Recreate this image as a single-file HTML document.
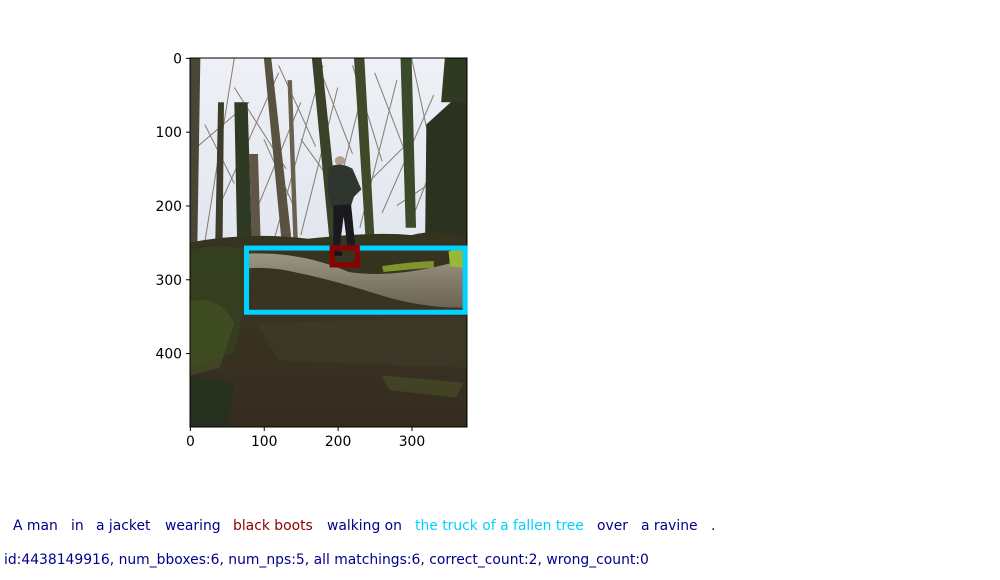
<!DOCTYPE html>
<html><head><meta charset="utf-8">
<style>
html,body{margin:0;padding:0;background:#fff;}
body{width:1000px;height:580px;position:relative;overflow:hidden;font-family:"DejaVu Sans","Liberation Sans",sans-serif;}
.w{position:absolute;font-size:13.9px;white-space:pre;line-height:16px;font-family:"DejaVu Sans","Liberation Sans",sans-serif;}
</style></head>
<body>
<svg id="chart" width="1000" height="500" style="position:absolute;left:0;top:0" xmlns="http://www.w3.org/2000/svg">
  <defs>
    <clipPath id="imgclip"><rect x="190" y="58" width="277" height="369"/></clipPath>
    <linearGradient id="sky" x1="0" y1="0" x2="0" y2="1">
      <stop offset="0" stop-color="#eef0f6"/><stop offset="0.5" stop-color="#e2e6ee"/><stop offset="1" stop-color="#c9cdc8"/>
    </linearGradient>
    <linearGradient id="ground" x1="0" y1="0" x2="0" y2="1">
      <stop offset="0" stop-color="#33341f"/><stop offset="0.4" stop-color="#3a3322"/><stop offset="1" stop-color="#352c20"/>
    </linearGradient>
    <linearGradient id="log" x1="0" y1="0" x2="0" y2="1">
      <stop offset="0" stop-color="#9c9583"/><stop offset="1" stop-color="#6b6455"/>
    </linearGradient>
  </defs>
  <g id="photo" clip-path="url(#imgclip)">
    <g transform="translate(190,58) scale(0.7387,0.738)">
      <rect x="0" y="0" width="375" height="500" fill="url(#sky)"/>
      <g stroke="#6e6455" stroke-width="1.4" fill="none" opacity="0.8">
        <path d="M20 250 L60 0 M40 200 L120 20 M80 230 L150 60 M110 260 L180 10 M150 240 L200 40 M190 220 L230 60 M230 230 L280 30 M260 210 L330 50 M300 220 L350 90 M10 120 L80 60 M130 150 L60 40 M170 120 L120 10 M220 130 L170 0 M260 140 L220 10 M300 150 L250 20 M330 140 L300 0 M60 170 L20 90 M140 200 L100 110 M200 180 L150 110 M240 170 L300 110 M280 200 L340 160"/>
      </g>
      <g fill="#4a4636">
        <path d="M0 0 L14 0 L10 250 L0 250 Z"/>
        <path d="M60 60 L78 60 L84 260 L64 260 Z" fill="#2f3a24"/>
        <path d="M38 60 L46 60 L44 260 L34 260 Z" fill="#3d3d2c"/>
        <path d="M100 0 L110 0 L140 270 L126 270 Z" fill="#5a5240"/>
        <path d="M165 0 L178 0 L205 260 L190 260 Z" fill="#3b4128"/>
        <path d="M132 30 L138 30 L146 250 L140 250 Z" fill="#6a6050"/>
        <path d="M222 0 L236 0 L250 250 L238 250 Z" fill="#3e4a2a"/>
        <path d="M285 0 L300 0 L306 230 L292 230 Z" fill="#3a4a2a"/>
        <path d="M320 90 L375 40 L375 270 L318 270 Z" fill="#2b3320"/>
        <path d="M345 0 L375 0 L375 60 L340 60 Z" fill="#2e3a22"/>
        <path d="M80 130 L92 130 L96 260 L84 260 Z" fill="#5e5646"/>
      </g>
      <path d="M0 250 Q80 235 160 245 Q250 235 300 240 Q340 230 375 245 L375 500 L0 500 Z" fill="url(#ground)"/>
      <path d="M0 260 Q40 250 90 262 L60 400 L0 420 Z" fill="#34421f" opacity="0.8"/>
      <path d="M0 330 Q40 320 60 360 L40 420 L0 430 Z" fill="#4a5a24" opacity="0.5"/>
      <path d="M0 430 L60 440 L50 500 L0 500 Z" fill="#24321e" opacity="0.8"/>
      <path d="M90 360 L375 350 L375 420 L120 410 Z" fill="#3f3a2a" opacity="0.6"/>
      <path d="M260 430 L370 440 L360 460 L270 450 Z" fill="#4a5228" opacity="0.6"/>
      <path d="M78 265 Q150 262 215 290 Q280 300 375 272 L375 338 Q320 340 260 322 Q190 300 150 292 Q110 282 80 285 Z" fill="url(#log)"/>
      <path d="M260 282 Q300 276 330 275 L330 284 Q300 286 262 290 Z" fill="#8aa030" opacity="0.9"/>
      <path d="M350 262 L375 255 L375 285 L352 282 Z" fill="#9ab838"/>
      <ellipse cx="203" cy="139" rx="7" ry="6" fill="#b0a090"/>
      <path d="M188 148 Q203 140 220 150 L232 178 L222 188 L218 200 L192 202 L186 180 Z" fill="#2f3630"/>
      <path d="M194 200 L218 198 L224 258 L214 262 L208 215 L202 262 L194 262 Z" fill="#1a1a1e"/>
      <rect x="194" y="262" width="12" height="6" fill="#141414"/>
    </g>
  </g>
  <rect x="190" y="58" width="277" height="369" fill="none" stroke="#000" stroke-width="1"/>
  <g id="axes" font-family="DejaVu Sans, Liberation Sans, sans-serif" font-size="13.9" fill="#000"></g>
  <g id="boxes"></g>
</svg>

<div class="w" style="left:13px;top:518px;color:#00008b">A man</div>
<div class="w" style="left:71px;top:518px;color:#00008b">in</div>
<div class="w" style="left:96px;top:518px;color:#00008b">a jacket</div>
<div class="w" style="left:165px;top:518px;color:#00008b">wearing</div>
<div class="w" style="left:233px;top:518px;color:#8b0000">black boots</div>
<div class="w" style="left:327px;top:518px;color:#00008b">walking on</div>
<div class="w" style="left:415px;top:518px;color:#00d2ff">the truck of a fallen tree</div>
<div class="w" style="left:597px;top:518px;color:#00008b">over</div>
<div class="w" style="left:641px;top:518px;color:#00008b">a ravine</div>
<div class="w" style="left:711px;top:518px;color:#00008b">.</div>
<div class="w" style="left:4px;top:552px;color:#00008b">id:4438149916, num_bboxes:6, num_nps:5, all matchings:6, correct_count:2, wrong_count:0</div>

<script>
const xTicks = [0, 100, 200, 300];
const yTicks = [0, 100, 200, 300, 400];
const boxLabels = ["the truck of a fallen tree", "black boots"];
const boxX0 = [76, 192];
const boxY0 = [257, 257];
const boxX1 = [372, 226];
const boxY1 = [344, 280];
const boxColors = ["#00d2ff", "#8b0000"];

const X0 = 190, X1 = 467, Y0 = 58, Y1 = 427, W = 375, H = 500;
function sx(v){ return X0 + (v + 0.5) * (X1 - X0) / W; }
function sy(v){ return Y0 + (v + 0.5) * (Y1 - Y0) / H; }
const NS = "http://www.w3.org/2000/svg";
const axes = document.getElementById('axes');
xTicks.forEach(t => {
  const l = document.createElementNS(NS, 'line');
  l.setAttribute('x1', sx(t)); l.setAttribute('x2', sx(t));
  l.setAttribute('y1', Y1); l.setAttribute('y2', Y1 + 4);
  l.setAttribute('stroke', '#000');
  
  
  axes.appendChild(l);
  const tx = document.createElementNS(NS, 'text');
  tx.setAttribute('x', sx(t)); tx.setAttribute('y', Y1 + 19);
  tx.setAttribute('text-anchor', 'middle');
  tx.textContent = t;
  
  
  axes.appendChild(tx);
});
yTicks.forEach(t => {
  const l = document.createElementNS(NS, 'line');
  l.setAttribute('x1', X0 - 4); l.setAttribute('x2', X0);
  l.setAttribute('y1', sy(t)); l.setAttribute('y2', sy(t));
  l.setAttribute('stroke', '#000');
  
  
  axes.appendChild(l);
  const tx = document.createElementNS(NS, 'text');
  tx.setAttribute('x', X0 - 8); tx.setAttribute('y', sy(t) + 5);
  tx.setAttribute('text-anchor', 'end');
  tx.textContent = t;
  
  
  axes.appendChild(tx);
});
const boxes = document.getElementById('boxes');
boxLabels.forEach((lab, i) => {
  const r = document.createElementNS(NS, 'rect');
  r.setAttribute('x', sx(boxX0[i])); r.setAttribute('y', sy(boxY0[i]));
  r.setAttribute('width', sx(boxX1[i]) - sx(boxX0[i]));
  r.setAttribute('height', sy(boxY1[i]) - sy(boxY0[i]));
  r.setAttribute('fill', 'none');
  r.setAttribute('stroke', boxColors[i]);
  r.setAttribute('stroke-width', '5');
  
  
  boxes.appendChild(r);
});
</script>
</body></html>
